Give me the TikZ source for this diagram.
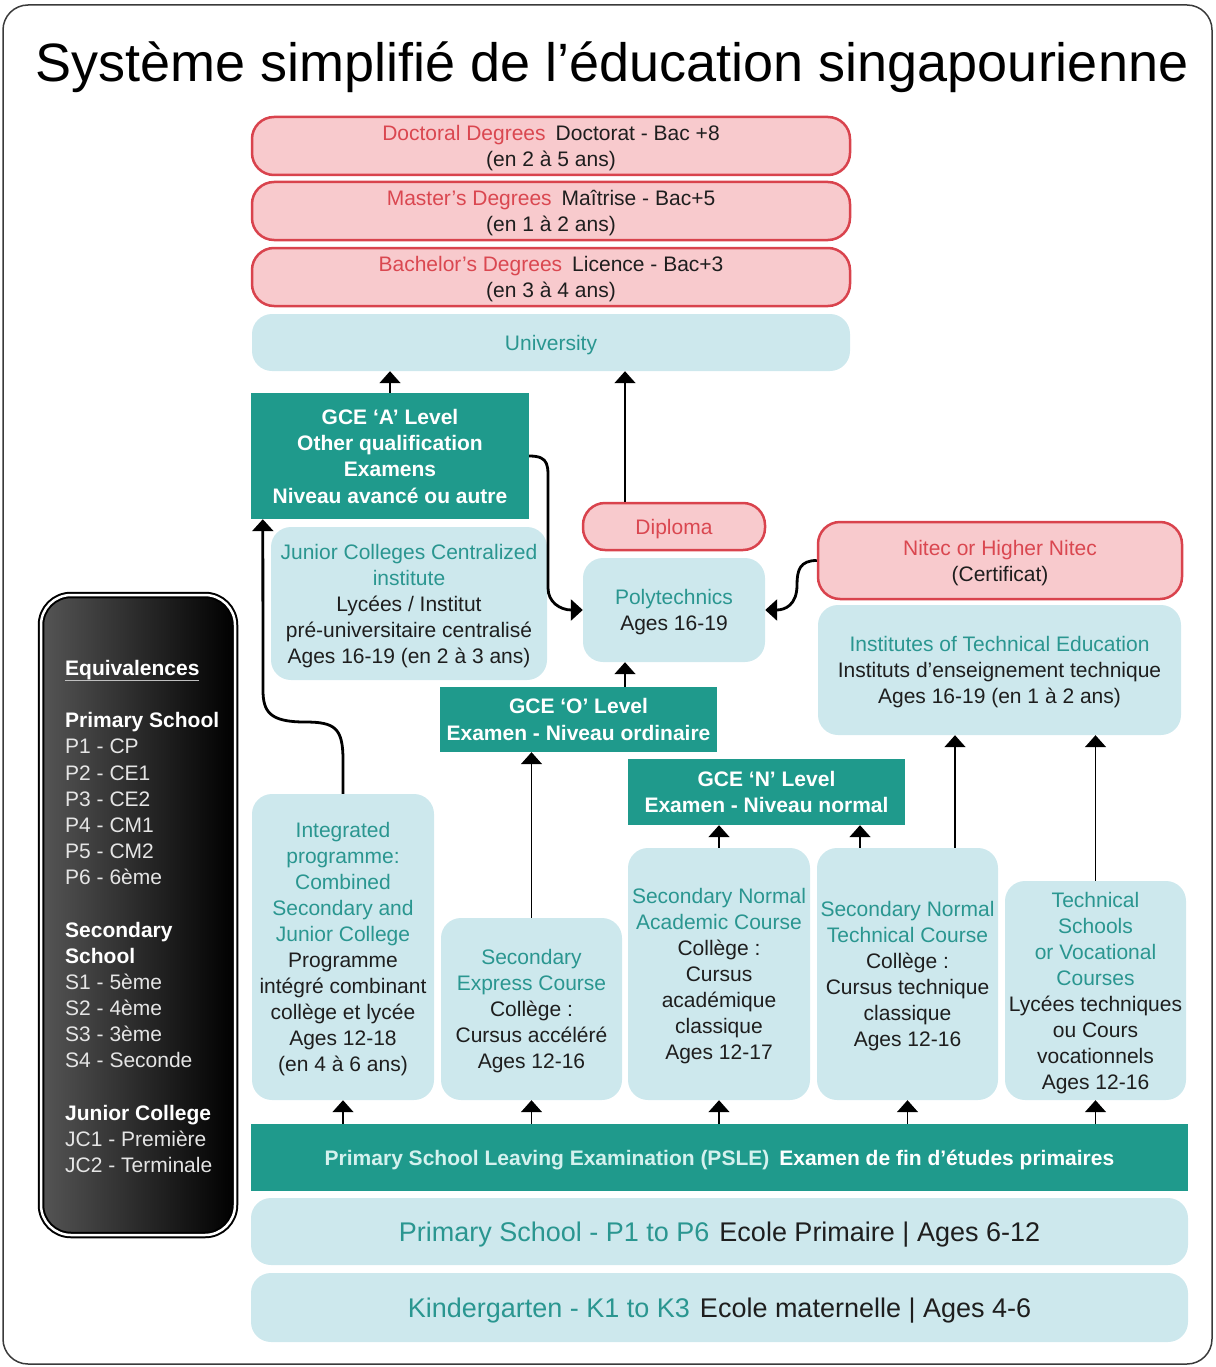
\documentclass[tikz,border=0pt]{standalone}
\usepackage{fontspec}
\setmainfont{Liberation Sans}
\usetikzlibrary{arrows.meta,calc}
\definecolor{lblue}{HTML}{CDE8ED}
\definecolor{tealf}{HTML}{1F9A8C}
\definecolor{tealt}{HTML}{2A9690}
\definecolor{pinkf}{HTML}{F8CACD}
\definecolor{redb}{HTML}{D9434D}
\definecolor{redt}{HTML}{DA4750}
\definecolor{txt}{HTML}{1E1E1E}
\definecolor{psletxt}{HTML}{D4F1EE}
\definecolor{framec}{HTML}{3A3A3A}
\definecolor{eqgray}{HTML}{555555}
\newcommand\tealtx[1]{\textcolor{tealt}{#1}}
\newcommand\redtx[1]{\textcolor{redt}{#1}}
\newcommand\equl[1]{\setbox0\hbox{#1}\rlap{\color{lightgray}\rule[-6pt]{\wd0}{1.2pt}}#1}
\begin{document}
\begin{tikzpicture}[x=1pt,y=-1pt,
  basebox/.style={rectangle, inner sep=0pt, align=center, text=txt, text depth=0pt,
    font=\fontsize{21}{26}\selectfont},
  bluebox/.style={basebox, fill=lblue, rounded corners=20pt},
  pinkbox/.style={basebox, fill=pinkf, draw=redb, line width=2.5pt, rounded corners=22pt},
  tealbox/.style={basebox, fill=tealf, text=white, font=\bfseries\fontsize{21}{26.3}\selectfont},
  equivbox/.style={rectangle, rounded corners=30pt, draw=black, line width=2pt,
    double=white, double distance=2.5pt, left color=eqgray, right color=black},
  arr/.style={draw=black, line width=1.6pt, -{Triangle[width=21pt,length=12pt]}},
  carr/.style={arr, line width=2.8pt}]
\useasboundingbox (0,0) rectangle (1215,1367);
\draw[framec, line width=1.5pt, rounded corners=25pt] (3,5) rectangle (1212,1364);

\node[anchor=base, font=\fontsize{54}{60}\selectfont, text=black] (title) at (612,82)
  {Système simplifié de l’éducation singapourienne};

% top pink degrees
\node[pinkbox, minimum width=598, minimum height=58] (doct) at (551,146)
  {\redtx{Doctoral Degrees}\hspace{10pt}Doctorat - Bac +8\\(en 2 à 5 ans)};
\node[pinkbox, minimum width=598, minimum height=58] (mast) at (551,211)
  {\redtx{Master’s Degrees}\hspace{10pt}Maîtrise - Bac+5\\(en 1 à 2 ans)};
\node[pinkbox, minimum width=598, minimum height=58] (bach) at (551,277)
  {\redtx{Bachelor’s Degrees}\hspace{10pt}Licence - Bac+3\\(en 3 à 4 ans)};
\node[bluebox, minimum width=598, minimum height=57] (univ) at (551,342.5)
  {\tealtx{University}};

% upper middle
\node[tealbox, minimum width=278, minimum height=126] (gceA) at (390,456)
  {GCE ‘A’ Level\\Other qualification\\Examens\\Niveau avancé ou autre};
\node[bluebox, minimum width=276, minimum height=153] (jc) at (409,603.5)
  {\tealtx{Junior Colleges Centralized}\\\tealtx{institute}\\Lycées / Institut\\pré-universitaire centralisé\\Ages 16-19 (en 2 à 3 ans)};
\node[pinkbox, minimum width=182, minimum height=47] (dip) at (674,526.5)
  {\redtx{Diploma}};
\node[bluebox, minimum width=182, minimum height=104] (poly) at (674,610)
  {\tealtx{Polytechnics}\\Ages 16-19};
\node[pinkbox, minimum width=364, minimum height=77] (nitec) at (1000,560.5)
  {\redtx{Nitec or Higher Nitec}\\(Certificat)};
\node[bluebox, minimum width=363, minimum height=130] (ite) at (999.5,670)
  {\tealtx{Institutes of Technical Education}\\Instituts d’enseignement technique\\Ages 16-19 (en 1 à 2 ans)};
\node[tealbox, minimum width=277, minimum height=65] (gceO) at (578.5,719.5)
  {GCE ‘O’ Level\\Examen - Niveau ordinaire};
\node[tealbox, minimum width=277, minimum height=66] (gceN) at (766.5,792)
  {GCE ‘N’ Level\\Examen - Niveau normal};

% secondary courses
\node[bluebox, minimum width=182, minimum height=306] (integ) at (343,947)
  {\tealtx{Integrated}\\\tealtx{programme:}\\\tealtx{Combined}\\\tealtx{Secondary and}\\\tealtx{Junior College}\\Programme\\intégré combinant\\collège et lycée\\Ages 12-18\\(en 4 à 6 ans)};
\node[bluebox, minimum width=181, minimum height=182] (expr) at (531.5,1009)
  {\tealtx{Secondary}\\\tealtx{Express Course}\\Collège :\\Cursus accéléré\\Ages 12-16};
\node[bluebox, minimum width=182, minimum height=252] (na) at (719,974)
  {\tealtx{Secondary Normal}\\\tealtx{Academic Course}\\Collège :\\Cursus\\académique\\classique\\Ages 12-17};
\node[bluebox, minimum width=181, minimum height=252] (nt) at (907.5,974)
  {\tealtx{Secondary Normal}\\\tealtx{Technical Course}\\Collège :\\Cursus technique\\classique\\Ages 12-16};
\node[bluebox, minimum width=181, minimum height=219] (tech) at (1095.5,990.5)
  {\tealtx{Technical}\\\tealtx{Schools}\\\tealtx{or Vocational}\\\tealtx{Courses}\\Lycées techniques\\ou Cours\\vocationnels\\Ages 12-16};

% bottom bands
\node[tealbox, minimum width=937, minimum height=67] (psle) at (719.5,1157.5)
  {\textcolor{psletxt}{Primary School Leaving Examination (PSLE)}\hspace{10pt}Examen de fin d’études primaires};
\node[bluebox, font=\fontsize{27}{32}\selectfont, minimum width=937, minimum height=67] (prim) at (719.5,1231.5)
  {\tealtx{Primary School - P1 to P6}\hspace{10pt}Ecole Primaire | Ages 6-12};
\node[bluebox, font=\fontsize{27}{32}\selectfont, minimum width=937, minimum height=69] (kind) at (719.5,1307.5)
  {\tealtx{Kindergarten - K1 to K3}\hspace{10pt}Ecole maternelle | Ages 4-6};

% equivalences panel
\node[equivbox, minimum width=194, minimum height=640] (equiv) at (138,915) {};
\node[anchor=north west, inner sep=0pt, align=left, text=white!90!black,
  font=\fontsize{21}{26.16}\selectfont] (equivtxt) at (65,660)
  {\textbf{\color{white}\equl{Equivalences}}\\[26.16pt]
   \textbf{\color{white}Primary School}\\
   P1 - CP\\P2 - CE1\\P3 - CE2\\P4 - CM1\\P5 - CM2\\P6 - 6ème\\[26.16pt]
   \textbf{\color{white}Secondary}\\\textbf{\color{white}School}\\
   S1 - 5ème\\S2 - 4ème\\S3 - 3ème\\S4 - Seconde\\[26.16pt]
   \textbf{\color{white}Junior College}\\JC1 - Première\\JC2 - Terminale};

% straight connectors
\draw[arr] (gceA.north) -- (gceA.north |- univ.south);
\draw[arr] ([xshift=-49pt]dip.north) -- ([xshift=-49pt]dip.north |- univ.south);
\draw[arr] ([xshift=-49pt]poly.south |- gceO.north) -- ([xshift=-49pt]poly.south);
\draw[arr] (expr.north) -- (expr.north |- gceO.south);
\draw[arr] (na.north) -- (na.north |- gceN.south);
\draw[arr] ([xshift=-47.5pt]nt.north) -- ([xshift=-47.5pt]nt.north |- gceN.south);
\draw[arr] ([xshift=47.5pt]nt.north) -- ([xshift=47.5pt]nt.north |- ite.south);
\draw[arr] (tech.north) -- (tech.north |- ite.south);
\foreach \n in {integ,expr,na,nt,tech}
  \draw[arr] (psle.north -| \n.south) -- (\n.south);

% curved connectors
\draw[carr] (gceA.east) .. controls (550,456) and (548,466) .. (548,486)
  -- (548,588) .. controls (548,602) and (560,610) .. (poly.west);
\draw[carr] (nitec.west) .. controls (800,560.5) and (797,570) .. (797,585)
  .. controls (797,605) and (785,610) .. (poly.east);
\draw[carr] (integ.north) -- (343,760) .. controls (343,728) and (335,722) .. (305,722)
  .. controls (270,722) and (263,712) .. (263,690) -- ([xshift=12pt]gceA.south west);
\end{tikzpicture}
\end{document}
